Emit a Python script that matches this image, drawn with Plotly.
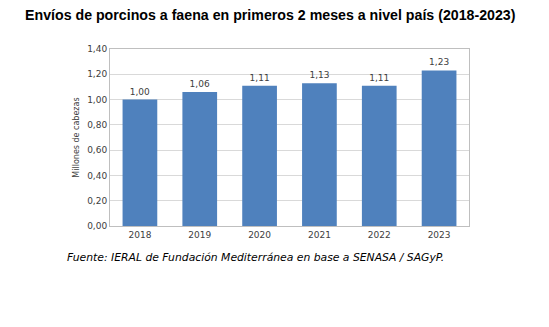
import plotly.graph_objects as go

years = ["2018", "2019", "2020", "2021", "2022", "2023"]
values = [1.00, 1.06, 1.11, 1.13, 1.11, 1.23]
labels = ["1,00", "1,06", "1,11", "1,13", "1,11", "1,23"]
yticks = [0, 0.2, 0.4, 0.6, 0.8, 1.0, 1.2, 1.4]
yticklabels = ["0,00", "0,20", "0,40", "0,60", "0,80", "1,00", "1,20", "1,40"]

W, H = 549, 327
L, R, T, B = 110, 469.5, 49, 226

fig = go.Figure(go.Bar(
    x=years, y=values, text=labels, textposition="outside",
    textfont=dict(size=9, color="#404040", family="DejaVu Sans"),
    marker=dict(color="#4F81BD", line=dict(width=0)),
    cliponaxis=False,
))

fig.update_layout(
    width=W, height=H,
    margin=dict(l=L, r=W - R, t=T, b=H - B),
    paper_bgcolor="white", plot_bgcolor="white",
    bargap=0.42,
    showlegend=False,
    font=dict(family="DejaVu Sans", color="#404040"),
    xaxis=dict(showgrid=False, tickfont=dict(size=9, color="#404040"),
               showline=True, linecolor="#BFBFBF", mirror=True, ticks="", ticklen=0),
    yaxis=dict(range=[0, 1.4], tickvals=yticks, ticktext=yticklabels,
               tickfont=dict(size=9, color="#404040"),
               showgrid=True, gridcolor="#D9D9D9", gridwidth=1,
               showline=True, linecolor="#BFBFBF", mirror=True, zeroline=False,
               title=dict(text="Millones de cabezas", font=dict(size=8, color="#404040"), standoff=6)),
    annotations=[
        dict(text="<b>Envíos de porcinos a faena en primeros 2 meses a nivel país (2018-2023)</b>",
             xref="paper", yref="paper", x=(23 - L) / (R - L), y=(B - 15) / (B - T),
             xanchor="left", yanchor="middle", showarrow=False,
             font=dict(size=14.2, color="#000000", family="Liberation Sans")),
        dict(text="<i>Fuente: IERAL de Fundación Mediterránea en base a SENASA / SAGyP.</i>",
             xref="paper", yref="paper", x=(65 - L) / (R - L), y=-(257 - B) / (B - T),
             xanchor="left", yanchor="middle", showarrow=False,
             font=dict(size=10.8, color="#000000", family="DejaVu Sans")),
    ],
)

fig.write_html("out.html")
